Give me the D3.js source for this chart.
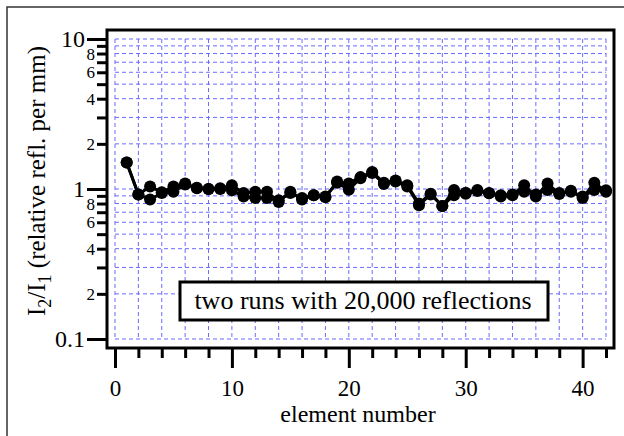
<!DOCTYPE html>
<html>
<head>
<meta charset="utf-8">
<script src="https://cdn.jsdelivr.net/npm/d3@7"></script>
<style>
  body { margin: 0; background: #fff; }
  svg text { font-family: "Liberation Serif", "Times New Roman", serif; fill: #000; }
</style>
</head>
<body>
<svg id="chart" width="624" height="436"></svg>
<script>
// element numbers and the two runs (I2/I1)
var elements = d3.range(1, 43);
var run1 = [1.50, 0.92, 1.04, 0.95, 1.04, 1.09, 1.01, 1.00, 1.01, 1.06,
            0.94, 0.96, 0.96, 0.82, 0.96, 0.85, 0.91, 0.88, 1.12, 1.09,
            1.20, 1.30, 1.10, 1.14, 1.06, 0.80, 0.93, 0.77, 0.985, 0.945,
            0.985, 0.935, 0.89, 0.91, 1.06, 0.89, 1.09, 0.925, 0.975, 0.87,
            1.10, 0.96];
var run2 = [1.50, 0.92, 0.85, 0.94, 0.96, 1.07, 1.02, 1.00, 1.00, 0.98,
            0.89, 0.87, 0.87, 0.84, 0.94, 0.87, 0.91, 0.89, 1.10, 0.99,
            1.18, 1.28, 1.08, 1.12, 1.04, 0.78, 0.92, 0.77, 0.91, 0.93,
            0.97, 0.94, 0.91, 0.92, 0.96, 0.92, 0.985, 0.94, 0.96, 0.89,
            0.985, 0.98];
var xTicks = d3.range(0, 43, 2);
var xLabels = [0, 10, 20, 30, 40];
var yTicks = [0.1, 0.2, 0.3, 0.4, 0.5, 0.6, 0.7, 0.8, 0.9,
              1, 2, 3, 4, 5, 6, 7, 8, 9, 10];
var yLabels = { 0.1: "0.1", 0.2: "2", 0.4: "4", 0.6: "6", 0.8: "8",
                1: "1", 2: "2", 4: "4", 6: "6", 8: "8", 10: "10" };
var note = "two runs with 20,000 reflections";

var serif = '"Liberation Serif", "Times New Roman", serif';
var svg = d3.select("#chart");
var frame = { left: 107, right: 614, top: 30, bottom: 348 };

var x = d3.scaleLinear().domain([0, 42]).range([115, 606]);
var y = d3.scaleLog().domain([0.1, 10]).range([339, 39]);

// outer border of the graph window
svg.append("rect")
    .attr("x", 7).attr("y", 7)
    .attr("width", 640).attr("height", 460)
    .attr("fill", "none").attr("stroke", "#333").attr("stroke-width", 1.5);

// grid
var grid = svg.append("g")
    .attr("stroke", "#6b6bff").attr("stroke-width", 1)
    .attr("stroke-dasharray", "4,3");
grid.selectAll(".gv").data(xTicks).enter().append("line")
    .attr("x1", d => x(d)).attr("x2", d => x(d))
    .attr("y1", y(10)).attr("y2", y(0.1));
grid.selectAll(".gh").data(yTicks).enter().append("line")
    .attr("x1", x(0)).attr("x2", x(42))
    .attr("y1", d => y(d)).attr("y2", d => y(d));

// data
var line = d3.line().x((d, i) => x(elements[i])).y(d => y(d));
[run2, run1].forEach(function (run) {
    svg.append("path").datum(run)
        .attr("d", line)
        .attr("fill", "none").attr("stroke", "#000")
        .attr("stroke-width", 3).attr("stroke-linejoin", "round");
    svg.append("g").selectAll("circle").data(run).enter().append("circle")
        .attr("cx", (d, i) => x(elements[i]))
        .attr("cy", d => y(d))
        .attr("r", 6).attr("fill", "#000");
});

// note box
svg.append("rect")
    .attr("x", 180).attr("y", 282).attr("width", 368).attr("height", 38)
    .attr("fill", "#fff").attr("stroke", "#000").attr("stroke-width", 3);
svg.append("text")
    .attr("x", 363).attr("y", 309)
    .attr("text-anchor", "middle")
    .style("font-family", serif).style("font-size", "26px")
    .text(note);

// x axis
var xAxis = svg.append("g")
    .attr("transform", "translate(0," + frame.bottom + ")")
    .attr("font-family", null)
    .call(d3.axisBottom(x).tickValues(xTicks)
        .tickFormat(d => xLabels.indexOf(d) >= 0 ? d : ""));
xAxis.select(".domain").remove();
xAxis.selectAll(".tick line")
    .attr("stroke", "#000").attr("stroke-width", 3)
    .attr("y2", d => d % 10 === 0 ? 20 : 10);
xAxis.selectAll(".tick text")
    .attr("y", 48).attr("dy", 0)
    .style("font-family", serif).style("font-size", "23px");

// y axis
var yAxis = svg.append("g")
    .attr("transform", "translate(" + frame.left + ",0)")
    .call(d3.axisLeft(y).tickValues(yTicks)
        .tickFormat(d => yLabels[d] || ""));
yAxis.select(".domain").remove();
var isDecade = d => d === 0.1 || d === 1 || d === 10;
yAxis.selectAll(".tick line")
    .attr("stroke", "#000").attr("stroke-width", 3)
    .attr("x2", d => isDecade(d) ? -20 : -10);
yAxis.selectAll(".tick text")
    .attr("x", d => isDecade(d) ? -22 : -12)
    .attr("dy", "0.33em")
    .style("font-family", serif)
    .style("font-size", d => isDecade(d) ? "24px" : "17px");

// plot frame
svg.append("rect")
    .attr("x", frame.left).attr("y", frame.top)
    .attr("width", frame.right - frame.left)
    .attr("height", frame.bottom - frame.top)
    .attr("fill", "none").attr("stroke", "#000").attr("stroke-width", 3);

// axis titles
svg.append("text")
    .attr("x", 358).attr("y", 422)
    .attr("text-anchor", "middle")
    .style("font-family", serif).style("font-size", "24px")
    .text("element number");

var yTitle = svg.append("text")
    .attr("transform", "translate(45,181) rotate(-90)")
    .attr("text-anchor", "middle")
    .style("font-family", serif).style("font-size", "25px");
yTitle.append("tspan").text("I");
yTitle.append("tspan").attr("dy", 6).style("font-size", "18px").text("2");
yTitle.append("tspan").attr("dy", -6).text("/I");
yTitle.append("tspan").attr("dy", 6).style("font-size", "18px").text("1");
yTitle.append("tspan").attr("dy", -6).text(" (relative refl. per mm)");
</script>
</body>
</html>
